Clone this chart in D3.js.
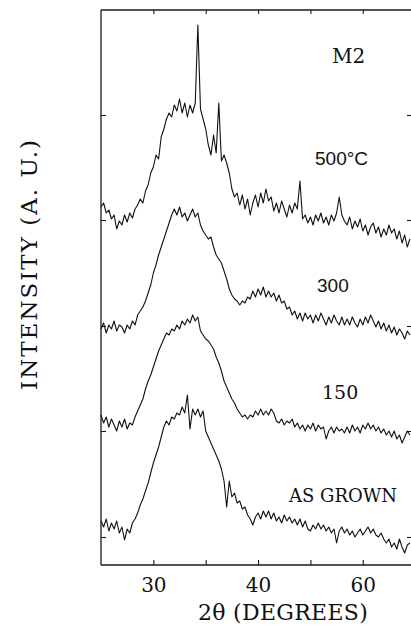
<!DOCTYPE html>
<html><head><meta charset="utf-8">
<script src="https://cdn.jsdelivr.net/npm/d3@7/dist/d3.min.js"></script>
<style>body{margin:0;background:#fff}svg{display:block}</style>
</head><body>
<svg id="c" width="411" height="637"></svg>
<script>
// scan grid (2θ, degrees)
const scanStart = 25, scanStep = 0.25, scanCount = 119;
const twoTheta = d3.range(scanCount).map(i => scanStart + i * scanStep);

// intensities (arbitrary units, offset-stacked as in the figure)
const asGrown = [44,38,46,34,42,36,44,32,38,25,36,32,42,46,52,60,66,74,82,92,102,110,118,128,138,144,140,148,146,152,150,158,152,170,136,156,150,156,148,154,134,128,122,116,110,104,96,84,58,84,68,72,62,64,56,58,50,46,40,48,52,46,54,48,54,46,52,44,48,42,50,44,48,42,46,40,46,38,44,36,34,40,36,42,36,40,34,38,32,36,22,34,38,32,36,30,34,28,32,36,30,34,38,32,36,30,28,32,26,22,26,18,22,16,26,18,12,20,22];
const t150 = [150,142,148,138,146,140,134,144,138,146,136,142,140,148,154,160,166,176,184,190,198,206,214,220,226,232,230,236,234,240,236,244,240,246,242,250,244,248,234,230,226,224,220,216,208,202,194,184,178,172,166,162,156,152,148,150,146,150,148,154,150,156,150,154,150,156,152,144,142,146,140,144,142,146,138,142,136,140,134,140,136,142,134,140,136,138,126,134,138,132,138,134,136,132,138,132,140,134,138,132,140,136,142,136,140,134,138,132,136,130,134,128,134,126,130,122,128,134,130];
const t300 = [236,242,232,240,236,244,234,240,238,232,240,236,244,240,250,254,258,264,272,280,292,300,310,318,326,334,342,350,356,350,358,348,352,344,350,356,348,352,340,334,330,326,328,318,310,306,302,294,286,276,270,266,264,260,264,262,268,266,274,268,276,270,278,268,274,268,272,264,270,262,264,256,258,250,254,246,252,244,252,246,250,242,250,244,252,246,240,248,242,250,244,240,248,240,246,240,248,242,238,246,240,248,242,250,244,238,244,236,242,234,240,232,238,230,236,232,226,234,230];
const t500 = [358,362,352,355,346,350,336,344,340,350,343,352,347,356,360,366,362,374,380,392,398,410,406,428,436,446,452,448,460,454,466,452,462,448,460,452,462,540,456,446,436,420,410,430,412,462,404,410,402,392,376,368,372,360,370,356,366,350,362,370,358,372,362,376,364,368,354,362,352,364,356,348,360,352,362,356,384,346,350,342,348,340,350,344,352,342,348,340,350,344,352,368,350,344,340,348,336,344,338,346,334,340,330,338,342,332,338,328,336,330,340,332,336,326,334,322,330,318,326];

const seriesNames = ["AS GROWN", "150", "300", "500°C"];
const seriesValues = [asGrown, t150, t300, t500];

const xTickValues = [30, 35, 40, 45, 50];
const xTickLabels = ["30", "", "40", "", "60"];
const yTickValues = [28, 134, 239, 345, 450];

const svg = d3.select("#c");
const L = 101, R = 412, T = 10, B = 565;
const x = d3.scaleLinear().domain([25, 54.7]).range([L, R]);
const y = d3.scaleLinear().domain([0, 555]).range([B, T]);

const frame = "#1a1a1a";
// axes
const gb = svg.append("g").attr("transform", `translate(0,${B})`)
  .call(d3.axisBottom(x).tickValues(xTickValues).tickSize(-5).tickPadding(13)
    .tickFormat((d, i) => xTickLabels[i]));
const gt = svg.append("g").attr("transform", `translate(0,${T})`)
  .call(d3.axisTop(x).tickValues(xTickValues).tickSize(-4).tickFormat(""));
const gl = svg.append("g").attr("transform", `translate(${L},0)`)
  .call(d3.axisLeft(y).tickValues(yTickValues).tickSize(-5).tickFormat(""));
const gr = svg.append("g").attr("transform", `translate(${R},0)`)
  .call(d3.axisRight(y).tickValues(yTickValues).tickSize(-5).tickFormat(""));
[gb, gt, gl, gr].forEach(g => {
  g.select(".domain").attr("stroke", frame).attr("stroke-width", 1.3).attr("d", null);
  g.selectAll(".tick line").attr("stroke", frame).attr("stroke-width", 1.1);
});
gb.select(".domain").attr("d", `M${L},0H${R}`);
gt.select(".domain").attr("d", `M${L},0H${R}`);
gl.select(".domain").attr("d", `M0,${T}V${B}`);
gr.select(".domain").attr("d", `M0,${T}V${B}`);
gb.selectAll(".tick text").attr("font-family", "DejaVu Serif").attr("font-size", 20).attr("fill", "#111");

// curves
const line = d3.line().x((d, i) => x(twoTheta[i])).y(d => y(d));
svg.append("g").selectAll("path").data(seriesValues).join("path")
  .attr("d", d => line(d)).attr("fill", "none").attr("stroke", "#111")
  .attr("stroke-width", 1.1).attr("stroke-linejoin", "round");

// labels
const lab = (t, px, py, fam, fs, ls) => svg.append("text").attr("x", px).attr("y", py)
  .attr("font-family", fam).attr("font-size", fs).attr("fill", "#111")
  .attr("letter-spacing", ls || 0).text(t);
lab("M2", 332, 63, "DejaVu Serif", 20);
lab(seriesNames[3], 315, 165, "Liberation Sans", 19);
lab(seriesNames[2], 317, 292, "Liberation Sans", 19);
lab(seriesNames[1], 322, 399, "DejaVu Serif", 19);
lab(seriesNames[0], 289, 502, "DejaVu Serif", 18);

svg.append("text").attr("x", 283).attr("y", 620).attr("text-anchor", "middle")
  .attr("font-family", "DejaVu Serif").attr("font-size", 22).attr("fill", "#111")
  .attr("letter-spacing", 0.3).text("2θ (DEGREES)");
svg.append("text").attr("transform", "translate(37,264) rotate(-90)")
  .attr("text-anchor", "middle").attr("font-family", "DejaVu Serif").attr("font-size", 23)
  .attr("letter-spacing", 2).attr("fill", "#111").text("INTENSITY (A. U.)");
</script>
</body></html>
